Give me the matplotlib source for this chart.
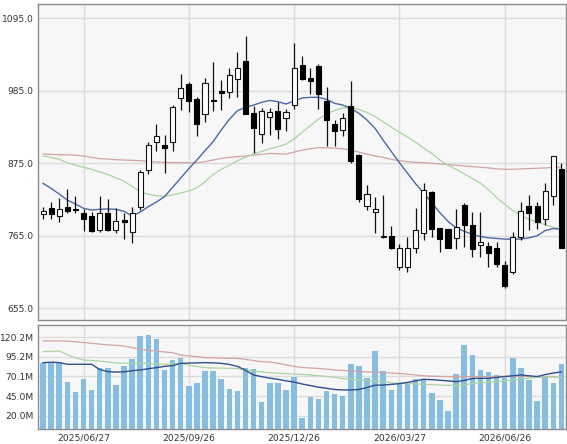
import numpy as np
import pandas as pd
import matplotlib
matplotlib.use('Agg')
import matplotlib.pyplot as plt

# weekly candles (65 weeks)
week_dates = pd.date_range('2025-05-23', periods=65, freq='7D').strftime('%Y/%m/%d')
tick_labels = ['2025/06/27', '2025/09/26', '2025/12/26', '2026/03/27', '2026/06/26']

opens = [798, 807.7, 795.6, 808.2, 805.7, 799.6, 795.6, 773.8, 799.6, 773.8,
         789.0, 770.3, 809.2, 865.3, 906.8, 902.8, 906.8, 974.1, 995.8, 972.0,
         949.3, 971.0, 985.2, 983.7, 1003.4, 1029.7, 950.8, 918.9, 944.7, 954.9,
         943.2, 962.9, 1024.1, 1003.9, 1022.6, 970.0, 935.1, 925.5, 962.4, 887.6,
         810.7, 800.6, 762.7, 764.5, 718.0, 718.3, 746.1, 769.8, 831.0, 776.4,
         774.9, 761.2, 811.8, 781.5, 751.1, 750.1, 746.1, 720.8, 710.7, 762.8,
         810.3, 810.3, 790.1, 825.5, 865.9]
highs = [808.3, 816.8, 822.9, 835.5, 825.9, 805.7, 801.6, 825.4, 820.3, 806.7,
         800.1, 808.2, 864.8, 907.8, 934.1, 917.9, 963.4, 1010.5, 998.3, 976.1,
         1004.4, 1028.2, 1001.4, 1019.1, 1043.3, 1068.1, 962.4, 959.4, 958.9, 968.5,
         956.9, 1058.0, 1038.3, 1020.1, 1025.1, 990.2, 940.7, 950.8, 999.9, 888.6,
         842.1, 823.4, 826.9, 780.0, 753.0, 763.8, 806.8, 844.7, 833.6, 776.4,
         774.9, 805.7, 814.3, 801.7, 801.7, 756.2, 756.2, 727.4, 771.4, 816.9,
         827.0, 816.9, 844.7, 886.7, 875.0]
lows = [790.1, 790.0, 786.5, 800.1, 800.1, 772.3, 771.3, 770.3, 772.3, 768.8,
        759.6, 754.6, 804.2, 858.3, 893.7, 860.8, 893.7, 955.9, 952.3, 916.9,
        938.2, 954.9, 955.9, 974.6, 975.6, 949.3, 891.1, 906.3, 918.0, 911.4,
        924.5, 956.9, 1001.4, 980.6, 957.4, 901.2, 901.2, 916.4, 874.9, 815.8,
        804.2, 768.8, 761.2, 745.0, 713.0, 710.7, 738.5, 758.7, 763.8, 741.0,
        746.1, 744.6, 748.6, 733.4, 733.4, 717.3, 717.3, 685.4, 707.1, 758.7,
        773.9, 774.9, 781.5, 811.8, 746.1]
closes = [802.2, 798.1, 805.7, 803.1, 804.2, 791.0, 772.3, 800.1, 773.3, 787.0,
          786.0, 800.1, 861.8, 902.8, 916.9, 898.7, 959.9, 989.7, 969.5, 934.1,
          997.3, 969.5, 981.6, 1008.5, 1020.1, 950.3, 929.1, 954.9, 952.3, 927.5,
          952.3, 1020.1, 1002.9, 1000.4, 980.1, 940.7, 924.5, 943.2, 879.0, 820.3,
          828.4, 805.2, 764.7, 746.0, 746.0, 746.1, 773.9, 834.6, 774.9, 759.7,
          746.1, 778.9, 781.5, 744.6, 756.2, 738.5, 722.3, 688.9, 763.8, 802.7,
          799.2, 786.5, 833.6, 886.7, 746.1]

# price moving averages
ma_short = [844.6, 837, 828.4, 819.3, 813.3, 806.7, 804.2, 805.2, 805.7, 805.2,
            802.1, 795.1, 801.1, 809.2, 816.3, 824.4, 838.5, 852.7, 866.9, 880.0,
            894.2, 907.8, 925.5, 941.7, 954.8, 959.9, 963.4, 967.5, 970.5, 968.5,
            965.0, 969.5, 974.1, 975.1, 975.1, 972.0, 966.0, 963.4, 958.4, 950.8,
            940.7, 928.0, 910, 893, 876, 860, 844, 830, 815, 800,
            787, 777, 772, 767, 764, 762, 761, 760, 760, 760,
            762, 765, 773, 776, 775]
ma_mid = [886, 884, 881, 876, 872, 869, 866, 862, 858, 853,
          848, 840, 832, 828, 826, 825, 827, 830, 833, 838,
          847, 858, 866, 872, 879, 884, 889, 893, 897, 900,
          904, 912, 922, 932, 942, 950, 955, 959, 959, 957,
          952, 946, 938, 930, 922, 915, 907, 898, 890, 880,
          872, 866, 859, 852, 845, 835, 823, 813, 803, 796,
          790, 786, 782, 778, 775]
ma_long = [889, 888.5, 888, 888, 887.5, 886, 884, 882, 881.5, 880.5,
           880, 879.5, 879, 878, 877, 876.5, 876, 876, 876, 876,
           877.5, 880, 882.5, 884, 885, 886, 887.5, 888.5, 890, 889.5,
           889, 892, 895, 897, 898.7, 898.5, 898, 897, 895, 892,
           889, 886, 884, 881, 879, 877.5, 876.5, 876, 875, 874,
           873, 872, 871, 870, 869, 868, 866.5, 866, 866, 866.5,
           867, 867.5, 868, 869, 869.5]

# volume (millions) and its moving averages
volume = [87.8, 86.9, 88.2, 63.5, 50.3, 66.5, 53.3, 81.4, 81.4, 59.2,
          83.1, 92.0, 122.3, 123.1, 118.5, 78.4, 91.2, 94.2, 58.4, 61.4,
          77.1, 77.1, 66.5, 54.5, 51.6, 81.4, 79.3, 37.1, 61.4, 62.2,
          52.4, 69.5, 16.6, 43.5, 41.8, 52.0, 48.2, 44.8, 86.1, 84.0,
          68.6, 103.1, 77.1, 53.3, 60.5, 62.2, 66.9, 66.9, 48.6, 40.5,
          26.0, 73.3, 110.8, 98.0, 78.4, 75.4, 72.0, 68.6, 94.2, 81.4,
          65.2, 39.2, 69.5, 62.2, 86.1]
vol_ma_short = [87.8, 88.4, 87.8, 85.7, 85.7, 85.7, 85.7, 79, 76.3, 75.8,
                76, 77.5, 78.4, 80, 81.4, 83, 84, 86.9, 87.2, 87.5,
                87.8, 87.5, 86.9, 85.5, 83, 78, 72, 69.9, 68, 66.5,
                64.5, 63, 60.5, 58.5, 56.5, 55, 53.5, 52.9, 52.9, 53.5,
                56, 59, 59.2, 60, 61, 62.5, 64.5, 66.5, 66, 65.3,
                64.5, 63.5, 65, 67.5, 67.8, 67.8, 69, 69.9, 71, 72,
                71, 70, 72.5, 74.5, 76]
vol_ma_mid = [101.8, 102.3, 102.7, 98, 94, 91.2, 90.5, 89.9, 88.5, 87.5,
              87, 87, 87.8, 86.5, 85.7, 85.7, 85.7, 86.9, 84.5, 83,
              81.4, 81, 80.8, 80.5, 80.3, 78.5, 77, 76, 75, 74.2,
              73.8, 73.2, 72.8, 72, 71, 70.2, 69, 67.5, 66.5, 65.5,
              65, 64.4, 63.5, 62, 61.4, 61, 60.5, 60.1, 59.8, 59.3,
              58.8, 58.5, 59.5, 61, 62.2, 63, 63.8, 64.4, 65.5, 67,
              68, 69, 69.8, 69.5, 68.6]
vol_ma_long = [115.5, 115.5, 115.5, 115.3, 114.5, 113.5, 112.5, 111.5, 110.5, 110,
               109, 107, 105, 103.5, 102.5, 101.5, 100.5, 97.6, 96.5, 95.5,
               94.2, 94, 93.6, 93.3, 93.2, 92, 90.5, 89, 88.5, 87,
               85, 83, 81.7, 81, 80.3, 79.5, 78.4, 78, 77.2, 76.5,
               76, 75.5, 75, 74.5, 74, 73, 72, 71, 70.5, 70.2,
               70, 70, 70, 70, 70, 70, 70, 70.5, 70.5, 70.5,
               70.2, 70, 69.8, 69.5, 68.6]

price_ticks = [655.0, 765.0, 875.0, 985.0, 1095.0]
vol_ticks = [20.0, 45.0, 70.1, 95.2, 120.2]

o = np.array(opens)
c = np.array(closes)
x = np.arange(len(o))
up = c >= o

W, H = 567, 444
fig = plt.figure(figsize=(W / 100, H / 100), dpi=100)
fig.patch.set_facecolor('white')
ax = fig.add_axes([38 / W, 1 - 320 / H, 528 / W, 316 / H])
axv = fig.add_axes([38 / W, 1 - 429 / H, 528 / W, 104 / H])

tick_pos = [i for i, d in enumerate(week_dates) if d in tick_labels]

for a in (ax, axv):
    a.set_facecolor('#f7f7f7')
    a.set_xlim(-0.62, 64.57)
    a.set_xticks(tick_pos)
    a.grid(True, color='#dcdcdc', linewidth=1)
    a.set_axisbelow(True)
    a.tick_params(length=0, labelsize=6.6, colors='#333333', pad=3)
    for s in a.spines.values():
        s.set_color('#8c8c8c')
        s.set_linewidth(1.0)

ax.set_xticklabels([])
axv.set_xticklabels(tick_labels)

# candles
ax.vlines(x, lows, highs, color='#111111', linewidth=0.9, zorder=2)
body_h = np.maximum(np.abs(c - o), 1.2)
body_b = np.minimum(o, c)
ax.bar(x[up], body_h[up], bottom=body_b[up], width=0.62, facecolor='white',
       edgecolor='#111111', linewidth=0.8, zorder=3)
ax.bar(x[~up], body_h[~up], bottom=body_b[~up], width=0.62, facecolor='black',
       edgecolor='black', linewidth=0.8, zorder=3)
ax.plot(x, ma_long, color='#d4a3a3', linewidth=0.9, zorder=1.5)
ax.plot(x, ma_mid, color='#a9d6a0', linewidth=0.9, zorder=1.5)
ax.plot(x, ma_short, color='#4a6aa5', linewidth=1.0, zorder=1.5)
ax.set_ylim(637.3, 1116.7)
ax.set_yticks(price_ticks)
ax.set_yticklabels(['%.1f' % v for v in price_ticks])

# volume
axv.bar(x, volume, width=0.68, color='#86bde3', zorder=2)
axv.plot(x, vol_ma_long, color='#d4a3a3', linewidth=0.9, zorder=3)
axv.plot(x, vol_ma_mid, color='#a9d6a0', linewidth=0.9, zorder=3)
axv.plot(x, vol_ma_short, color='#2f4f8f', linewidth=1.0, zorder=3)
axv.set_ylim(3.0, 135.9)
axv.set_yticks(vol_ticks)
axv.set_yticklabels(['%.1fM' % v for v in vol_ticks])

fig.savefig('out.png', dpi=100)
